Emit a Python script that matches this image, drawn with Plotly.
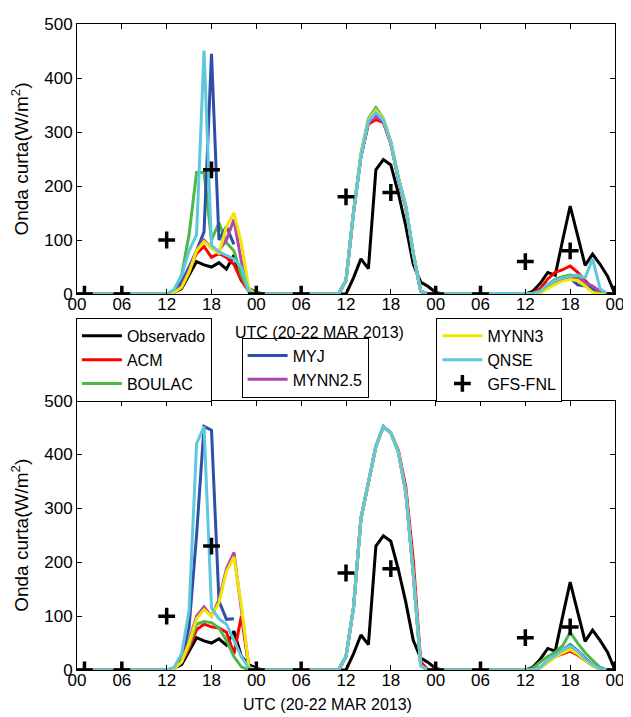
import plotly.graph_objects as go

# ---------------- data ----------------
HOURS = list(range(0, 73))
TICK_VALS = list(range(0, 73, 6))
TICK_TEXT = ["00", "06", "12", "18", "00", "06", "12", "18", "00", "06", "12", "18", "00"]
Y_TICKS = [0, 100, 200, 300, 400, 500]

# daytime segments start at these hours (13 hourly values each); night = 0
DAY_STARTS = [12, 36, 60]

obs = [[0, 3, 10, 35, 60, 54, 50, 58, 46, 72, 25, 10, 3],
       [0, 30, 65, 47, 230, 249, 239, 187, 126, 55, 22, 14, 3],
       [0, 5, 20, 40, 35, 100, 163, 108, 53, 74, 55, 33, 0]]

# top panel
top_acm = [[0, 3, 15, 45, 75, 88, 68, 75, 68, 55, 25, 5, 0],
           [25, 150, 255, 315, 323, 318, 278, 213, 160, 73, 5, 0, 0],
           [0, 2, 10, 28, 40, 45, 52, 40, 25, 10, 2, 0, 0]]
top_boulac = [[0, 8, 35, 110, 225, 225, 100, 132, 95, 80, 35, 4, 0],
              [25, 152, 260, 325, 345, 325, 282, 216, 163, 76, 5, 0, 0],
              [0, 1, 5, 18, 27, 32, 35, 33, 20, 8, 1, 0, 0]]
top_myj = [[0, 5, 22, 50, 80, 115, 445, 100, 125, 92, None, None, None],
           [25, 150, 255, 318, 330, 320, 280, 215, 162, 75, 5, 0, 0],
           [0, 1, 4, 15, 23, 28, 30, 17, 15, 10, 2, 0, 0]]
top_mynn25 = [[0, 3, 15, 45, 80, 100, 85, 80, 100, 138, 60, 8, 0],
              [25, 150, 255, 318, 328, 320, 279, 214, 161, 74, 5, 0, 0],
              [0, 1, 3, 14, 22, 26, 30, 28, 22, 15, 5, 0, 0]]
top_mynn3 = [[0, 3, 12, 40, 80, 97, 85, 75, 125, 150, 95, 10, 0],
             [25, 151, 258, 322, 340, 324, 281, 216, 163, 75, 5, 0, 0],
             [0, 1, 2, 10, 18, 24, 27, 25, 15, 3, 0, 0, 0]]
top_qnse = [[0, 8, 35, 80, 110, 451, 90, 78, 72, 65, 50, 5, 0],
            [25, 150, 255, 320, 336, 322, 280, 215, 162, 75, 5, 0, 0],
            [0, 1, 5, 17, 25, 30, 33, 35, 30, 65, 10, 0, 0]]

# bottom panel
bot_acm = [[0, 2, 15, 40, 75, 85, 80, 78, 70, 30, 100, 5, 0],
           [25, 115, 281, 345, 415, 452, 440, 408, 340, 205, 15, 0, 0],
           [0, 0, 5, 15, 25, 30, 35, 28, 18, 8, 2, 0, 0]]
bot_boulac = [[0, 3, 15, 45, 85, 90, 88, 78, 55, 25, 6, 0, 0],
              [25, 115, 281, 345, 415, 452, 440, 405, 330, 180, 8, 0, 0],
              [0, 3, 15, 25, 33, 45, 70, 50, 32, 18, 5, 0, 0]]
bot_myj = [[0, 3, 20, 80, 250, 452, 445, 128, 94, 95, None, None, None],
           [25, 115, 281, 345, 415, 452, 440, 405, 330, 180, 8, 0, 0],
           [0, 0, 5, 17, 27, 37, 47, 36, 22, 10, 2, 0, 0]]
bot_mynn25 = [[0, 2, 15, 55, 100, 117, 100, 130, 188, 218, 115, 5, 0],
              [25, 115, 281, 345, 415, 452, 440, 405, 330, 180, 8, 0, 0],
              [0, 0, 4, 15, 25, 33, 40, 32, 20, 10, 2, 0, 0]]
bot_mynn3 = [[0, 2, 15, 50, 95, 112, 100, 125, 183, 210, 120, 5, 0],
             [25, 115, 281, 345, 415, 452, 440, 405, 330, 180, 8, 0, 0],
             [0, 0, 4, 14, 24, 32, 38, 30, 18, 8, 1, 0, 0]]
bot_qnse = [[0, 5, 30, 110, 420, 452, 115, 95, 85, 55, 25, 3, 0],
            [25, 115, 281, 345, 415, 452, 440, 405, 330, 180, 8, 0, 0],
            [0, 0, 5, 18, 27, 37, 45, 35, 20, 10, 2, 0, 0]]

gfs_hours = [1, 6, 12, 18, 24, 30, 36, 42, 48, 54, 60, 66, 72]
gfs_vals = [0, 0, 100, 230, 0, 0, 180, 188, 0, 0, 60, 80, 0]

NAMES = ["Observado", "ACM", "BOULAC", "MYJ", "MYNN2.5", "MYNN3", "QNSE"]
COLORS = ["#000000", "#ff0000", "#4cb848", "#2e4fa6", "#b245b0", "#f2e600", "#5ec8dc"]
LEGENDS = ["legend", "legend", "legend", "legend2", "legend2", "legend3", "legend3"]


def full_series(segments):
    vals = [0.0] * len(HOURS)
    for start, seg in zip(DAY_STARTS, segments):
        for i, v in enumerate(seg):
            vals[start + i] = v
    return vals


top_sets = [obs, top_acm, top_boulac, top_myj, top_mynn25, top_mynn3, top_qnse]
bot_sets = [obs, bot_acm, bot_boulac, bot_myj, bot_mynn25, bot_mynn3, bot_qnse]

fig = go.Figure()
for panel, sets in (("1", top_sets), ("2", bot_sets)):
    xa = "x" if panel == "1" else "x2"
    ya = "y" if panel == "1" else "y2"
    for name, color, seg, lg in zip(NAMES, COLORS, sets, LEGENDS):
        fig.add_trace(go.Scatter(
            x=HOURS, y=full_series(seg), mode="lines", name=name,
            line=dict(color=color, width=3), xaxis=xa, yaxis=ya,
            showlegend=(panel == "1"), legend=lg, connectgaps=False))
    fig.add_trace(go.Scatter(
        x=gfs_hours, y=gfs_vals, mode="markers", name="GFS-FNL",
        marker=dict(symbol="cross-thin", size=12, color="black",
                    line=dict(color="black", width=3.5)),
        xaxis=xa, yaxis=ya, showlegend=(panel == "1"), legend="legend3"))

FONT = "Liberation Sans, Arial, sans-serif"
axis_common = dict(showline=True, linecolor="black", linewidth=1, mirror="ticks",
                   ticks="inside", ticklen=5, tickcolor="black", showgrid=False,
                   zeroline=False, tickfont=dict(family=FONT, size=17, color="black"))
xcommon = dict(axis_common, range=[0, 72], tickvals=TICK_VALS, ticktext=TICK_TEXT,
               ticklabelstandoff=-5)
ycommon = dict(axis_common, range=[0, 500], tickvals=Y_TICKS,
               title=dict(text="Onda curta(W/m<sup>2</sup>)",
                          font=dict(family=FONT, size=19, color="black"), standoff=12))

legend_common = dict(bgcolor="white", bordercolor="black", borderwidth=1,
                     font=dict(family=FONT, size=16, color="black"),
                     xanchor="left", yanchor="top", itemwidth=40,
                     tracegroupgap=0)

# the page body adds an 8px margin, so the figure is sized/placed to compensate
fig.update_layout(
    width=623, height=709,
    margin=dict(l=69, r=11, t=7, b=47),
    paper_bgcolor="white", plot_bgcolor="white",
    font=dict(family=FONT, color="black"),
    xaxis=dict(xcommon, domain=[0, 1], anchor="y"),
    yaxis=dict(ycommon, domain=[0.582, 1], anchor="x"),
    xaxis2=dict(xcommon, domain=[0, 1], anchor="y2"),
    yaxis2=dict(ycommon, domain=[0, 0.417], anchor="x2"),
    legend=dict(legend_common, x=-0.002, y=0.545),
    legend2=dict(legend_common, x=0.306, y=0.5145),
    legend3=dict(legend_common, x=0.668, y=0.545),
    annotations=[
        dict(text="UTC (20-22 MAR 2013)", xref="paper", yref="paper", x=0.451, y=0.523,
             showarrow=False, xanchor="center", yanchor="middle",
             font=dict(family=FONT, size=16, color="black")),
        dict(text="UTC (20-22 MAR 2013)", xref="paper", yref="paper", x=0.466, y=-0.054,
             showarrow=False, xanchor="center", yanchor="middle",
             font=dict(family=FONT, size=16, color="black")),
    ],
)

fig.write_html("out.html")
